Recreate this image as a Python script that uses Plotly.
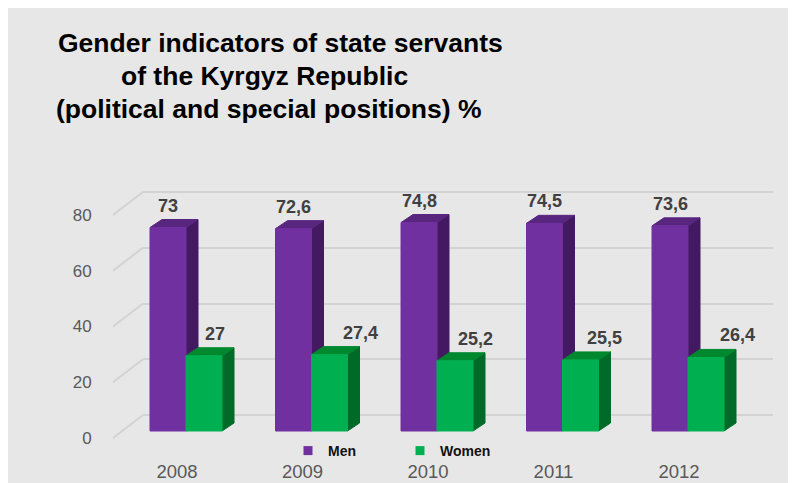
import plotly.graph_objects as go

# ---------------- data ----------------
years = ["2008", "2009", "2010", "2011", "2012"]
men = [73, 72.6, 74.8, 74.5, 73.6]
women = [27, 27.4, 25.2, 25.5, 26.4]
series_names = ["Men", "Women"]
y_ticks = [0, 20, 40, 60, 80]
women_label_dx = [11, 31, 20, 24, 31]   # label nudges (px) as in the original

title_lines = [
    "Gender indicators of state servants",
    "of the Kyrgyz Republic",
    "(political and special positions) %",
]

# ---------------- geometry (screen pixels) ----------------
PAGE_OFF = 8               # page body margin
FIG_W, FIG_H = 780, 475
PL, PR = 113, 773          # plot paper left / right (screen px)
PT, PB = 170, 445          # plot paper top / bottom (screen px)
CAT_PX = 125.5             # px per category
CAT0_PX = 186              # px of first category centre
Y_PX = 2.7875              # px per value unit
BAR_ZERO = 431             # px of value 0 for bar front faces
GRID_ZERO = 415            # px of value 0 on back wall
FRONT_ZERO = 438           # px of value 0 at the front edge
WALL_X = 143               # back wall start px
BAR_W = 36 / CAT_PX        # bar width in category units
DX = 12 / CAT_PX           # depth offset x
DY = 8 / Y_PX              # depth offset y

x2_range = [(PL - CAT0_PX) / CAT_PX, (PR - CAT0_PX) / CAT_PX]
y2_range = [-(PB - BAR_ZERO) / Y_PX, (BAR_ZERO - PT) / Y_PX]
y_grid_range = [-(PB - GRID_ZERO) / Y_PX, (GRID_ZERO - PT) / Y_PX]

GRID_COLOR = "#D3D3D3"
colors = {
    "Men": {"front": "#7030A0", "top": "#58257F", "side": "#431A62"},
    "Women": {"front": "#00B050", "top": "#00882F", "side": "#006B28"},
}

fig = go.Figure()

# invisible trace so that the back-wall (x, y) subplot is created
fig.add_trace(go.Scatter(x=[None], y=[None], xaxis="x", yaxis="y",
                         showlegend=False, hoverinfo="skip"))

# diagonal floor/wall lines at the left
for v in y_ticks:
    fig.add_trace(go.Scatter(
        x=[x2_range[0], x2_range[0] + (WALL_X - PL) / CAT_PX],
        y=[v - (FRONT_ZERO - BAR_ZERO) / Y_PX, v + (BAR_ZERO - GRID_ZERO) / Y_PX],
        mode="lines", line=dict(color=GRID_COLOR, width=2),
        xaxis="x2", yaxis="y2", showlegend=False, hoverinfo="skip"))


def faces(values, offset):
    fx, fy, tx, ty, sx, sy = [], [], [], [], [], []
    for i, v in enumerate(values):
        x0 = i + offset * BAR_W
        x1 = x0 + BAR_W
        fx += [x0, x1, x1, x0, x0, None]
        fy += [0, 0, v, v, 0, None]
        tx += [x0, x1, x1 + DX, x0 + DX, x0, None]
        ty += [v, v, v + DY, v + DY, v, None]
        sx += [x1, x1 + DX, x1 + DX, x1, x1, None]
        sy += [0, DY, v + DY, v, 0, None]
    return (fx, fy), (tx, ty), (sx, sy)


for name, vals, off in [("Men", men, -1), ("Women", women, 0)]:
    (fx, fy), (tx, ty), (sx, sy) = faces(vals, off)
    c = colors[name]
    for (xx, yy), col in [((sx, sy), c["side"]), ((tx, ty), c["top"]), ((fx, fy), c["front"])]:
        fig.add_trace(go.Scatter(
            x=xx, y=yy, mode="lines", fill="toself", fillcolor=col,
            line=dict(color=col, width=1), xaxis="x2", yaxis="y2",
            showlegend=False, hoverinfo="skip"))

# legend entries
for name in series_names:
    fig.add_trace(go.Scatter(
        x=[None], y=[None], mode="markers", name=name,
        marker=dict(symbol="square", size=9, color=colors[name]["front"]),
        xaxis="x2", yaxis="y2"))


def fmt(v):
    return ("%g" % v).replace(".", ",")


label_font = dict(family="Liberation Sans", size=18, color="#404040", weight="bold")
annotations = []
for i, v in enumerate(men):
    annotations.append(dict(
        x=i - BAR_W / 2, y=v, xref="x2", yref="y2", text=fmt(v), showarrow=False,
        yshift=22, yanchor="middle", font=label_font))
for i, v in enumerate(women):
    annotations.append(dict(
        x=i + BAR_W / 2, y=v, xref="x2", yref="y2", text=fmt(v), showarrow=False,
        yshift=22, xshift=women_label_dx[i], yanchor="middle", font=label_font))

# title lines
title_x_px = [56, 119, 54]
title_y_px = [43, 76, 109]
for txt, xp, yp in zip(title_lines, title_x_px, title_y_px):
    annotations.append(dict(
        x=(xp - PL) / (PR - PL), y=(PB - yp) / (PB - PT), xref="paper", yref="paper",
        text="<b>%s</b>" % txt, showarrow=False, xanchor="left", yanchor="middle",
        font=dict(family="Liberation Sans", size=26.5, color="#000000")))

fig.update_layout(
    width=FIG_W, height=FIG_H, autosize=False,
    margin=dict(l=PL - PAGE_OFF, r=PAGE_OFF + FIG_W - PR, t=PT - PAGE_OFF,
                b=PAGE_OFF + FIG_H - PB, pad=0),
    paper_bgcolor="#E7E7E7", plot_bgcolor="rgba(0,0,0,0)",
    showlegend=True,
    legend=dict(orientation="h", x=(288 - PL) / (PR - PL), xanchor="left",
                y=(PB - 451) / (PB - PT), yanchor="middle",
                bgcolor="rgba(0,0,0,0)", entrywidth=67, entrywidthmode="pixels",
                itemwidth=30,
                font=dict(family="Liberation Sans", size=14, color="#111111", weight="bold")),
    xaxis=dict(domain=[(WALL_X - PL) / (PR - PL), 1], range=[0, 1], showgrid=False,
               showticklabels=False, zeroline=False, showline=False, ticks="",
               automargin=False),
    yaxis=dict(anchor="x", range=y_grid_range, tickvals=y_ticks, showgrid=True,
               gridcolor=GRID_COLOR, gridwidth=2, showticklabels=False, zeroline=False,
               showline=False, ticks="", automargin=False),
    xaxis2=dict(domain=[0, 1], anchor="y2", range=x2_range, tickvals=list(range(len(years))),
                ticktext=years, showgrid=False, zeroline=False, showline=False,
                ticks="outside", ticklen=10, tickcolor="rgba(0,0,0,0)", ticklabelshift=-9,
                automargin=False,
                tickfont=dict(family="Liberation Sans", size=18.5, color="#595959")),
    yaxis2=dict(domain=[0, 1], anchor="x2", range=y2_range, tickvals=y_ticks,
                showgrid=False, zeroline=False, showline=False,
                ticks="outside", ticklen=17, tickcolor="rgba(0,0,0,0)", ticklabelshift=7,
                automargin=False,
                tickfont=dict(family="Liberation Sans", size=17, color="#595959")),
    annotations=annotations,
)

fig.write_html("out.html")
